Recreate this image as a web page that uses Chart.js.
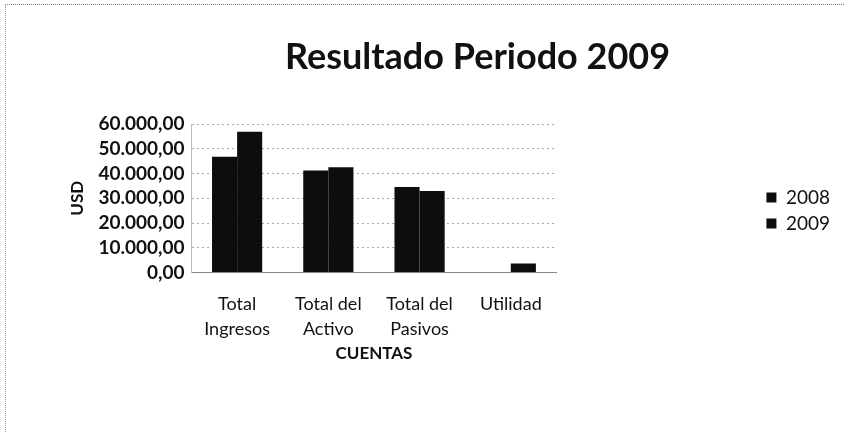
<!DOCTYPE html>
<html>
<head>
<meta charset="utf-8">
<script src="https://cdn.jsdelivr.net/npm/chart.js@4"></script>
<style>
    html, body { margin: 0; padding: 0; background: #fff; }
    #wrap {
        position: relative;
        width: 845px;
        height: 432px;
        box-sizing: border-box;
        border-top: 1px dotted #777;
        border-left: 1px dotted #999;
        margin: 4px 0 0 5px;
    }
</style>
</head>
<body>
<div id="wrap"><canvas id="resultChart"></canvas></div>
<script>
// --- data ---
const categories = [["Total", "Ingresos"], ["Total del", "Activo"], ["Total del", "Pasivos"], ["Utilidad"]];
const seriesNames = ["2008", "2009"];
const values2008 = [46800, 41300, 34600, 0];
const values2009 = [56900, 42600, 33000, 3600];
const yTicks = [0, 10000, 20000, 30000, 40000, 50000, 60000];

function formatUsd(v) {
    // 60000 -> "60.000,00"
    const whole = Math.round(v).toString().replace(/\B(?=(\d{3})+(?!\d))/g, ".");
    return whole + ",00";
}

const fontFamily = "Lato, 'Open Sans', sans-serif";

// nudge title and legend to where the reference has them
const nudgeBoxes = {
    id: 'nudgeBoxes',
    afterLayout(chart) {
        if (chart.titleBlock) {
            chart.titleBlock.left += 26;
            chart.titleBlock.right += 26;
        }
        if (chart.legend) {
            chart.legend.top += 13;
            chart.legend.bottom += 13;
        }
    }
};

const ctx = document.getElementById('resultChart');
new Chart(ctx, {
    type: 'bar',
    data: {
        labels: categories,
        datasets: [{
            label: seriesNames[0],
            data: values2008,
            backgroundColor: '#0d0d0d',
            yAxisID: 'y'
        }, {
            label: seriesNames[1],
            data: values2009,
            backgroundColor: '#0d0d0d',
            yAxisID: 'y'
        }]
    },
    options: {
        responsive: true,
        maintainAspectRatio: false,
        animation: false,
        layout: {
            padding: { left: 57, right: 10, top: 28, bottom: 74 }
        },
        datasets: {
            bar: {
                categoryPercentage: 0.55,
                barPercentage: 1.0
            }
        },
        scales: {
            x: {
                grid: { display: false },
                border: { color: '#888' },
                ticks: {
                    color: '#111',
                    font: { family: fontFamily, size: 18, lineHeight: 1.35 },
                    maxRotation: 0,
                    padding: 12
                },
                title: {
                    display: true,
                    text: 'CUENTAS',
                    color: '#111',
                    font: { family: fontFamily, size: 17, weight: 'bold', lineHeight: 1 },
                    padding: { top: -8, bottom: 0 }
                }
            },
            y: {
                min: 0,
                max: 60000,
                afterBuildTicks: function(scale) {
                    scale.ticks = yTicks.map(v => ({ value: v }));
                },
                grid: {
                    color: '#aaa',
                    lineWidth: 1,
                    drawTicks: false
                },
                border: { display: true, color: '#bbb', dash: [2, 3] },
                ticks: {
                    color: '#111',
                    font: { family: fontFamily, size: 19, weight: 'bold' },
                    padding: 7,
                    autoSkip: false,
                    callback: function(v) { return formatUsd(v); }
                },
                title: {
                    display: true,
                    text: 'USD',
                    color: '#111',
                    font: { family: fontFamily, size: 17, weight: 'bold' },
                    padding: { bottom: 4 }
                }
            },
            gap: {
                position: 'right',
                display: true,
                grid: { display: false, drawOnChartArea: false },
                border: { display: false },
                ticks: { display: false },
                afterFit: function(scale) { scale.width = 203; }
            }
        },
        plugins: {
            title: {
                display: true,
                text: 'Resultado Periodo 2009',
                color: '#111',
                font: { family: fontFamily, size: 36, weight: 'bold' },
                padding: { top: 3, bottom: 45 }
            },
            legend: {
                position: 'right',
                labels: {
                    color: '#111',
                    font: { family: fontFamily, size: 19 },
                    boxWidth: 10,
                    boxHeight: 10,
                    padding: 7
                }
            },
            tooltip: { enabled: false }
        }
    },
    plugins: [nudgeBoxes]
});
</script>
</body>
</html>
